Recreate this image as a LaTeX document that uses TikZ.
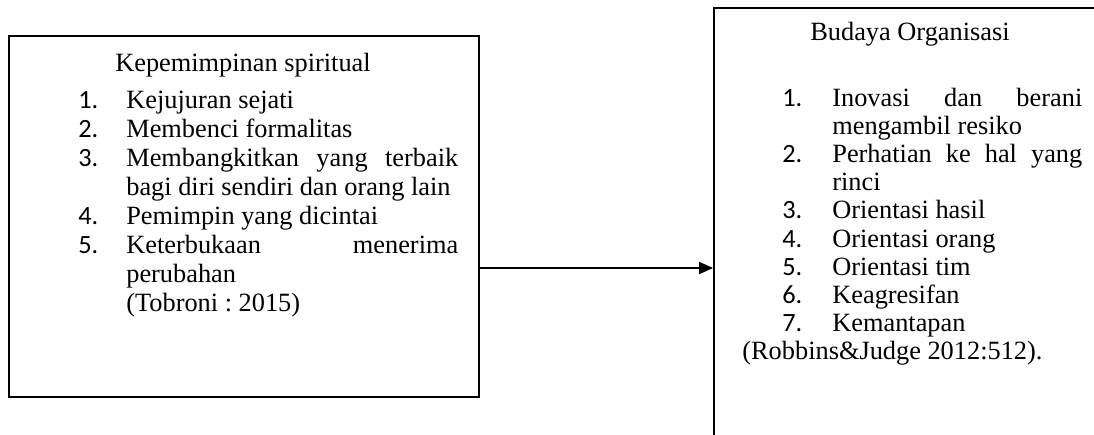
\documentclass[tikz,border=0pt]{standalone}
\usepackage{fontspec}
\setmainfont{Liberation Serif}
\newfontfamily\numfont{Carlito}
\usetikzlibrary{arrows.meta}

% hanging list items
\newlength\itemind
\newcommand\listsetup[1]{\setlength\itemind{#1}\frenchspacing\tolerance=10000\relax\hyphenpenalty=10000\relax\emergencystretch=3cm\relax}
\newcommand\litem[2]{\par\hangindent=\itemind\hangafter=1\noindent\strut\makebox[\itemind][l]{\numfont #1.}#2}

\tikzset{
  box/.style={draw, line width=1.1pt, inner sep=0pt},
  title/.style={anchor=base, inner sep=0pt, font=\fontsize{15}{16.5}\selectfont},
  listtext/.style={anchor=north west, inner sep=0pt, align=justify,
    font=\fontsize{15}{#1}\selectfont},
  arrowline/.style={line width=1.1pt, -{Triangle[length=0.28cm,width=0.24cm]}},
}

\begin{document}
\begin{tikzpicture}[x=0.02cm, y=-0.02cm]
  \useasboundingbox (0,0) rectangle (1094,434);
  \clip (0,0) rectangle (1094,434);

  % left box: Kepemimpinan spiritual
  \node[box, minimum width=9.4cm, minimum height=7.22cm] (kepBox) at (244,216.5) {};
  \node[title] (kepTitle) at (243,71) {Kepemimpinan spiritual};
  \node[listtext=16.5, text width=7.6cm] (kepList) at (78,79) {%
    \listsetup{0.96cm}%
    \litem{1}{Kejujuran sejati}
    \litem{2}{Membenci formalitas}
    \litem{3}{Membangkitkan yang terbaik bagi diri sendiri dan orang lain}
    \litem{4}{Pemimpin yang dicintai}
    \litem{5}{Keterbukaan menerima perubahan}
    \par\noindent\hspace*{\itemind}(Tobroni : 2015)};

  % right box: Budaya Organisasi (runs off the page)
  \node[box, minimum width=7.92cm, minimum height=8.84cm] (budBox) at (912,229) {};
  \node[title] (budTitle) at (910,40) {Budaya Organisasi};
  \node[listtext=16, text width=6cm] (budList) at (782,78) {%
    \listsetup{1cm}%
    \litem{1}{Inovasi dan berani mengambil resiko}
    \litem{2}{Perhatian ke hal yang rinci}
    \litem{3}{Orientasi hasil}
    \litem{4}{Orientasi orang}
    \litem{5}{Orientasi tim}
    \litem{6}{Keagresifan}
    \litem{7}{Kemantapan}
    \par\noindent\hspace*{-0.8cm}(Robbins\&Judge 2012:512).};

  % arrow
  \coordinate (arrowlevel) at (0,268);
  \draw[arrowline] (kepBox.east |- arrowlevel) -- (budBox.west |- arrowlevel);
\end{tikzpicture}
\end{document}
